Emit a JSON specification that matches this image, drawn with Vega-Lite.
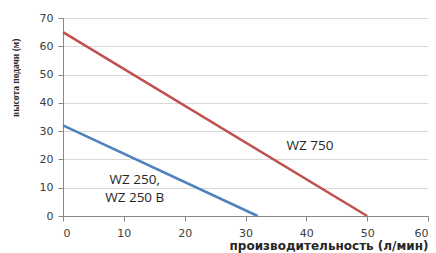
{
  "$schema": "https://vega.github.io/schema/vega-lite/v6.json",
  "width": 365,
  "height": 198,
  "autosize": {"type": "none"},
  "padding": {"left": 63, "top": 18, "right": 8, "bottom": 37},
  "background": "white",
  "config": {"view": {"stroke": null}},
  "encoding": {
    "x": {"field": "q", "type": "quantitative", "scale": {"domain": [0, 60], "nice": false},
      "axis": {"values": [0,10,20,30,40,50,60], "grid": false, "labelOverlap": false, "domainColor": "#868686", "tickColor": "#868686", "tickSize": 5,
        "labelFont": "DejaVu Sans", "labelFontSize": 11, "labelColor": "#404040", "labelPadding": 6,
        "title": "производительность (л/мин)", "titleFont": "DejaVu Sans", "titleFontSize": 12, "titleFontWeight": "bold", "titleColor": "#262626",
        "titleAnchor": "end", "titleAlign": "right", "titleX": 365, "titleY": 29, "titleBaseline": "middle"}},
    "y": {"field": "h", "type": "quantitative", "scale": {"domain": [0, 70], "nice": false},
      "axis": {"values": [0,10,20,30,40,50,60,70], "grid": true, "labelOverlap": false, "gridColor": "#d9d9d9", "domainColor": "#868686", "tickColor": "#868686", "tickSize": 5,
        "labelFont": "DejaVu Sans", "labelFontSize": 11, "labelColor": "#404040", "labelPadding": 5,
        "title": "высота подачи (м)", "titleFont": "Liberation Sans Narrow", "titleFontSize": 9.5, "titleFontWeight": "bold", "titleColor": "#262626",
        "titleAngle": -90, "titleAlign": "right", "titleBaseline": "middle", "titleX": -48, "titleY": 20}}
  },
  "layer": [
    {
      "data": {"values": [
        {"series": "WZ 750", "q": 0, "h": 65},
        {"series": "WZ 750", "q": 50, "h": 0},
        {"series": "WZ 250", "q": 0, "h": 32},
        {"series": "WZ 250", "q": 32, "h": 0}
      ]},
      "mark": {"type": "line", "strokeWidth": 2.5},
      "encoding": {
        "color": {"field": "series", "type": "nominal", "scale": {"domain": ["WZ 750", "WZ 250"], "range": ["#C0504D", "#4F81BD"]}, "legend": null}
      }
    },
    {
      "data": {"values": [
        {"label": "WZ 750", "q": 40.6, "h": 24.7},
        {"label": "WZ 250,", "q": 11.8, "h": 12.6},
        {"label": "WZ 250 B", "q": 11.8, "h": 6.3}
      ]},
      "mark": {"type": "text", "font": "Open Sans", "fontSize": 13.5, "color": "#262626", "align": "center", "baseline": "middle"},
      "encoding": {
        "text": {"field": "label"}
      }
    }
  ]
}
